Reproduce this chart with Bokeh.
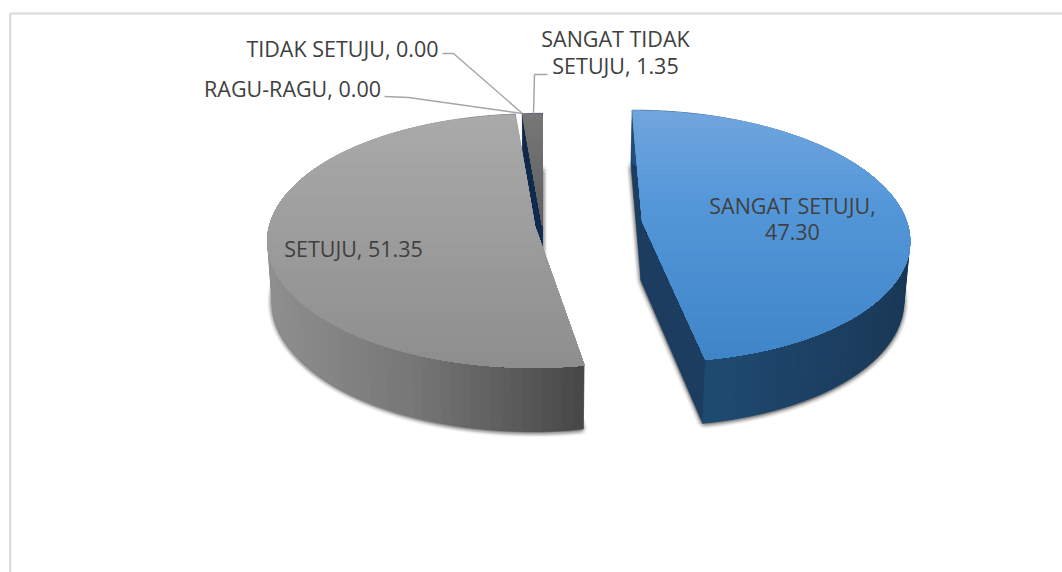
import math
from bokeh.plotting import figure
from bokeh.models import Range1d, ColumnDataSource
from bokeh.core.properties import value
from bokeh.embed import file_html
from bokeh.resources import INLINE

categories = ["SANGAT SETUJU", "SETUJU", "RAGU-RAGU", "TIDAK SETUJU", "SANGAT TIDAK SETUJU"]
values = [47.30, 51.35, 0.00, 0.00, 1.35]
explosion = [0.38, 0.03, 0.0, 0.0, 0.0]

top_stops = [[(113, "#70a5de"), (200, "#5598d9"), (360, "#3f85c8")],
             [(117, "#aaaaaa"), (365, "#8e8e8e")], None, None,
             [(113, "#787878"), (240, "#5c5c5c")]]
wall_stops = [[(640, "#214d78"), (720, "#1f4a70"), (910, "#1a3857")],
              [(268, "#8f8f8f"), (420, "#767676"), (585, "#484848")], None, None,
              [(520, "#10294a"), (545, "#10294a")]]
cut_colors = ["#1c3c60", "#5a5a5a", None, None, "#0f2a4c"]

XV, YV, R, A, H, K, M = 542.0, 225.0, 265.0, 125.0, 60.0, 0.115, 0.016


def proj(u, v, z=0.0):
    w = 1 + K * v + M * z
    return XV + R * u / w, YV + (-A * v + H * z) / w


def lerp(stops, t):
    if t <= stops[0][0]:
        return stops[0][1]
    for (a, ca), (b, cb) in zip(stops, stops[1:]):
        if t <= b:
            f = (t - a) / (b - a)
            c = [round(int(ca[i:i + 2], 16) * (1 - f) + int(cb[i:i + 2], 16) * f) for i in (1, 3, 5)]
            return "#%02x%02x%02x" % tuple(c)
    return stops[-1][1]


def clip_below(poly, y0):
    out = []
    n = len(poly)
    for i in range(n):
        a, b = poly[i], poly[(i + 1) % n]
        ina, inb = a[1] >= y0, b[1] >= y0
        if ina:
            out.append(a)
        if ina != inb:
            f = (y0 - a[1]) / (b[1] - a[1])
            out.append((a[0] + (b[0] - a[0]) * f, y0))
    return out


xs, ys, colors, alphas = [], [], [], []


def add(poly, color, alpha=1.0):
    xs.append([p[0] for p in poly])
    ys.append([p[1] for p in poly])
    colors.append(color)
    alphas.append(alpha)


slices = []
start = 0.0
total = sum(values)
for i, val in enumerate(values):
    sweep = val / total * 2 * math.pi
    mid = start + sweep / 2
    cu, cv = explosion[i] * math.sin(mid), explosion[i] * math.cos(mid)
    slices.append((i, start, sweep, cu, cv))
    start += sweep

for i, a0, sw, cu, cv in slices:
    if sw <= 0:
        continue
    n = max(4, int(math.degrees(sw) / 2))
    pts = [(cu, cv)] + [(cu + math.sin(a0 + sw * k / n), cv + math.cos(a0 + sw * k / n)) for k in range(n + 1)]
    base = [proj(u, v, 1) for u, v in pts]
    for r in (5, 4, 3, 2, 1):
        for d in range(8):
            dx, dy = r * math.cos(d * math.pi / 4), r * math.sin(d * math.pi / 4)
            add([(x + dx, y + dy + 1) for x, y in base], "#000000", 0.028)

for i, a0, sw, cu, cv in [slices[4], slices[1], slices[0]]:
    n = max(4, int(math.degrees(sw) / 2))
    ang = [a0 + sw * k / n for k in range(n + 1)]
    rim = [(cu + math.sin(a), cv + math.cos(a)) for a in ang]
    for u, v in (rim[0], rim[-1]):
        add([proj(cu, cv), proj(u, v), proj(u, v, 1), proj(cu, cv, 1)], cut_colors[i])
    for k in range(n):
        u0, v0 = rim[k]
        u1, v1 = rim[min(k + 2, n)]
        q = [proj(u0, v0), proj(u1, v1), proj(u1, v1, 1), proj(u0, v0, 1)]
        add(q, lerp(wall_stops[i], q[0][0]))
    poly = [proj(cu, cv)] + [proj(u, v) for u, v in rim]
    ymin, ymax = min(p[1] for p in poly), max(p[1] for p in poly)
    bands = 50
    for b in range(bands):
        y0 = ymin + (ymax - ymin) * b / bands
        part = clip_below(poly, y0) if b else poly
        if len(part) >= 3:
            add(part, lerp(top_stops[i], y0 + (ymax - ymin) / bands / 2))

p = figure(width=1062, height=572, x_range=Range1d(0, 1062), y_range=Range1d(572, 0),
           output_backend="svg", toolbar_location=None, min_border=0, outline_line_color=None,
           background_fill_color="white", border_fill_color="white")
p.axis.visible = False
p.grid.visible = False

p.line([9.7, 9.7, 1062], [572, 13, 13], line_color="#d9d9d9", line_width=2)

src = ColumnDataSource(dict(xs=xs, ys=ys, c=colors, a=alphas))
p.patches("xs", "ys", source=src, fill_color="c", fill_alpha="a", line_color="c", line_alpha="a", line_width=0.4)

leader_color = "#a6a6a6"
p.line([442, 453, 522], [53, 53, 113], line_color=leader_color, line_width=1.5)
p.line([384, 408, 522], [96, 97, 113], line_color=leader_color, line_width=1.5)
p.line([547, 534, 533], [74, 74, 113], line_color=leader_color, line_width=1.5)


def lab(c, v):
    return f"{c}, {v:.2f}"


label_text = [lab(categories[3], values[3]), lab(categories[2], values[2]),
              "SANGAT TIDAK", f"SETUJU, {values[4]:.2f}",
              lab(categories[1], values[1]),
              f"{categories[0]},", f"{values[0]:.2f}"]
label_x = [342, 292, 615, 615, 353, 792, 792]
label_y = [48, 88, 38, 65, 248, 205, 231]
p.text(label_x, label_y, text=label_text, text_font=value("Open Sans"), text_font_size="21.5px",
       text_color="#404040", text_align="center", text_baseline="middle")

open("out.html", "w").write(file_html(p, INLINE))
